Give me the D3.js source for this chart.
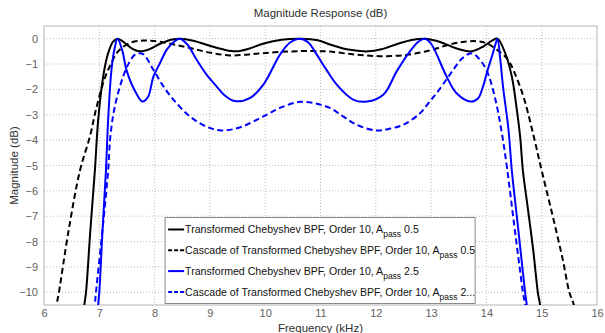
<!DOCTYPE html>
<html>
<head>
<meta charset="utf-8">
<script src="https://cdn.jsdelivr.net/npm/d3@7"></script>
<style>
  body { margin: 0; background: #fff; }
  svg { display: block; font-family: "Liberation Sans", Arial, sans-serif; }
</style>
</head>
<body>
<svg id="chart" width="605" height="333"></svg>
<script>
// values (frequency in kHz, magnitude in dB)
const chebFreq = [6.70, 6.73, 6.76, 6.84, 6.92, 6.98, 7.07, 7.16, 7.25, 7.33, 7.45, 7.6, 7.74, 7.9, 8.1, 8.3, 8.46,
  8.7, 9.0, 9.25, 9.48, 9.7, 9.96, 10.3, 10.63, 10.95, 11.2, 11.5, 11.86, 12.1, 12.4, 12.65, 12.89,
  13.15, 13.45, 13.73, 13.95, 14.1, 14.2, 14.34, 14.46, 14.55, 14.61, 14.66, 14.75, 14.85, 14.93, 14.97, 15.0];
const chebDb = [-11.5, -10.5, -10, -7.5, -5.2, -3.2, -1.49, -0.57, -0.12, 0, -0.15, -0.4, -0.5, -0.42, -0.2, -0.04, 0,
  -0.08, -0.28, -0.43, -0.5, -0.4, -0.2, -0.04, 0, -0.06, -0.25, -0.43, -0.5, -0.42, -0.2, -0.05, 0,
  -0.12, -0.38, -0.5, -0.3, -0.08, 0, -0.57, -1.49, -2.8, -3.86, -5.2, -6.7, -8.4, -10, -10.5, -11.5];

const cascFreq = [6.20, 6.23, 6.27, 6.45, 6.65, 6.83, 6.95, 7.1, 7.2, 7.34, 7.55, 7.74, 7.9, 8.1, 8.4, 8.7, 9.0,
  9.36, 9.7, 9.96, 10.3, 10.63, 10.9, 11.17, 11.6, 12.08, 12.56, 12.98, 13.3, 13.6, 13.82, 14.0, 14.2,
  14.39, 14.5, 14.67, 14.85, 15.0, 15.2, 15.38, 15.5, 15.58, 15.62];
const cascDb = [-11.5, -10.5, -10, -7.5, -5.2, -3.86, -2.7, -1.55, -1.05, -0.5, -0.17, -0.08, -0.08, -0.12, -0.25, -0.4, -0.55,
  -0.66, -0.62, -0.57, -0.52, -0.49, -0.49, -0.51, -0.62, -0.69, -0.64, -0.46, -0.25, -0.12, -0.1, -0.18, -0.45,
  -0.83, -1.3, -2.28, -3.8, -5.2, -7.0, -8.7, -10, -10.5, -11.5];

const cheb25Freq = [6.96, 6.98, 7.0, 7.06, 7.12, 7.16, 7.22, 7.28, 7.33, 7.42, 7.49, 7.65, 7.78, 7.88, 7.98, 8.1, 8.22, 8.36, 8.46,
  8.6, 8.76, 8.95, 9.12, 9.25, 9.45, 9.73, 9.97, 10.27, 10.45, 10.63, 10.78, 10.93, 11.1, 11.29, 11.59, 11.84,
  12.14, 12.38, 12.62, 12.78, 12.89, 13.0, 13.28, 13.46, 13.72, 13.85, 13.94, 14.02, 14.1, 14.16, 14.2,
  14.25, 14.3, 14.4, 14.46, 14.55, 14.63, 14.7, 14.73, 14.76];
const cheb25Db = [-11.5, -10.5, -10, -7.5, -5.2, -3.2, -1.23, -0.35, 0, -0.5, -1.23, -2.08, -2.48, -2.3, -1.49, -0.95, -0.43, -0.1, 0,
  -0.25, -0.83, -1.45, -1.88, -2.2, -2.46, -2.33, -1.8, -0.62, -0.15, 0, -0.15, -0.62, -1.2, -1.8, -2.4, -2.48,
  -2.2, -1.28, -0.49, -0.1, 0, -0.2, -1.49, -2.15, -2.48, -2.35, -1.88, -1.25, -0.7, -0.25, 0,
  -0.8, -1.88, -3.6, -5.2, -7.0, -8.6, -10, -10.5, -11.5];

const casc25Freq = [6.90, 6.92, 6.94, 7.06, 7.16, 7.2, 7.28, 7.43, 7.55, 7.65, 7.72, 7.8, 7.98, 8.15, 8.34, 8.64, 8.94,
  9.21, 9.54, 9.97, 10.3, 10.63, 10.9, 11.17, 11.4, 11.65, 12.01, 12.25, 12.5, 12.8, 12.98, 13.1, 13.28, 13.4,
  13.55, 13.73, 13.85, 14.0, 14.15, 14.27, 14.37, 14.5, 14.6, 14.66, 14.7, 14.73];
const casc25Db = [-11.5, -10.5, -10, -7.5, -5.2, -3.86, -2.68, -1.5, -0.9, -0.62, -0.57, -0.62, -1.23, -1.85, -2.4, -3.07, -3.47,
  -3.62, -3.5, -3.06, -2.7, -2.49, -2.55, -2.73, -3.05, -3.39, -3.62, -3.55, -3.39, -2.94, -2.46, -2.15, -1.6, -1.23,
  -0.8, -0.57, -0.75, -1.23, -2.28, -3.6, -5.05, -7.3, -9.0, -10, -10.5, -11.5];

const xTicks = [6, 7, 8, 9, 10, 11, 12, 13, 14, 15, 16];
const yTicks = [0, -1, -2, -3, -4, -5, -6, -7, -8, -9, -10];

const seriesNames = [
  ['Transformed Chebyshev BPF, Order 10, A', 'pass', ' 0.5'],
  ['Cascade of Transformed Chebyshev BPF, Order 10, A', 'pass', ' 0.5'],
  ['Transformed Chebyshev BPF, Order 10, A', 'pass', ' 2.5'],
  ['Cascade of Transformed Chebyshev BPF, Order 10, A', 'pass', ' 2...']
];
const seriesColors = ['#000000', '#000000', '#0000ff', '#0000ff'];
const seriesDashed = [false, true, false, true];

const svg = d3.select('#chart');
const margin = { top: 26, right: 8, bottom: 28, left: 44 };
const width = +svg.attr('width') - margin.left - margin.right;
const height = +svg.attr('height') - margin.top - margin.bottom;

const x = d3.scaleLinear().domain([6, 16]).range([0, width]);
const y = d3.scaleLinear().domain([-10.5, 0.5]).range([height, 0]);

const g = svg.append('g').attr('transform', `translate(${margin.left},${margin.top})`);

g.append('clipPath').attr('id', 'clip')
  .append('rect').attr('width', width).attr('height', height);

// grid
g.append('g')
  .selectAll('line')
  .data(xTicks.slice(1, -1))
  .enter().append('line')
  .attr('x1', d => x(d)).attr('x2', d => x(d))
  .attr('y1', 0).attr('y2', height)
  .attr('stroke', '#bdbdbd').attr('stroke-dasharray', '1,2');

g.append('g')
  .selectAll('line')
  .data(yTicks)
  .enter().append('line')
  .attr('x1', 0).attr('x2', width)
  .attr('y1', d => y(d)).attr('y2', d => y(d))
  .attr('stroke', '#bdbdbd').attr('stroke-dasharray', '1,2');

// axes
const xAxis = g.append('g')
  .attr('transform', `translate(0,${height})`)
  .call(d3.axisBottom(x).tickValues(xTicks).tickSize(0).tickPadding(4).tickFormat(d3.format('d')));
const yAxis = g.append('g')
  .call(d3.axisLeft(y).tickValues(yTicks).tickSize(0).tickPadding(6).tickFormat(d3.format('d')));

[xAxis, yAxis].forEach(a => {
  a.select('.domain').remove();
  a.selectAll('text').attr('fill', '#606060').style('font-size', '11px');
});

g.append('rect')
  .attr('width', width).attr('height', height)
  .attr('fill', 'none').attr('stroke', '#b4b4b4');

// curves
const line = d3.line()
  .x(d => x(d[0]))
  .y(d => y(d[1]))
  .curve(d3.curveCatmullRom.alpha(0.5));

const series = [
  d3.zip(chebFreq, chebDb),
  d3.zip(cascFreq, cascDb),
  d3.zip(cheb25Freq, cheb25Db),
  d3.zip(casc25Freq, casc25Db)
];

g.append('g')
  .attr('clip-path', 'url(#clip)')
  .selectAll('path')
  .data(series)
  .enter().append('path')
  .attr('d', line)
  .attr('fill', 'none')
  .attr('stroke', (d, i) => seriesColors[i])
  .attr('stroke-width', 2)
  .attr('stroke-dasharray', (d, i) => seriesDashed[i] ? '6,3.5' : null);

// legend
const legend = g.append('g').attr('transform', `translate(${x(8.19)},${y(-7.05)})`);
legend.append('rect')
  .attr('width', 310).attr('height', 86)
  .attr('fill', '#fff').attr('stroke', '#8a8a8a');

const item = legend.selectAll('g')
  .data(seriesNames)
  .enter().append('g')
  .attr('transform', (d, i) => `translate(0,${12 + i * 20.8})`);

item.append('line')
  .attr('x1', 3).attr('x2', 19)
  .attr('stroke', (d, i) => seriesColors[i])
  .attr('stroke-width', 2)
  .attr('stroke-dasharray', (d, i) => seriesDashed[i] ? '4,2' : null);

const label = item.append('text')
  .attr('x', 20).attr('dy', '0.35em')
  .attr('fill', '#111')
  .style('font-size', '10.6px');
label.append('tspan').text(d => d[0]);
label.append('tspan').attr('dy', 4).style('font-size', '8.5px').text(d => d[1]);
label.append('tspan').attr('dy', -4).text(d => d[2]);

// titles
svg.append('text')
  .attr('x', margin.left + width / 2).attr('y', 17)
  .attr('text-anchor', 'middle').attr('fill', '#303030')
  .style('font-size', '11.5px')
  .text('Magnitude Response (dB)');

svg.append('text')
  .attr('x', margin.left + width / 2).attr('y', 332)
  .attr('text-anchor', 'middle').attr('fill', '#303030')
  .style('font-size', '11.5px')
  .text('Frequency (kHz)');

svg.append('text')
  .attr('transform', `translate(18,${margin.top + height / 2}) rotate(-90)`)
  .attr('text-anchor', 'middle').attr('fill', '#303030')
  .style('font-size', '11.5px')
  .text('Magnitude (dB)');
</script>
</body>
</html>
